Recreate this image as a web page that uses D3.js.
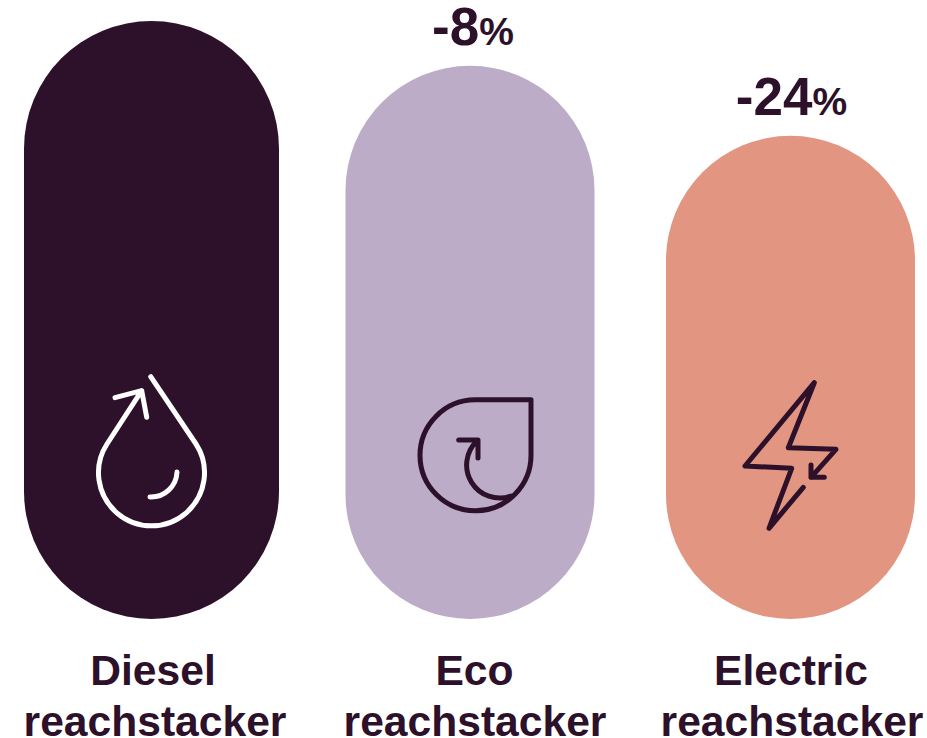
<!DOCTYPE html>
<html>
<head>
<meta charset="utf-8">
<script src="https://cdnjs.cloudflare.com/ajax/libs/d3/7.8.5/d3.min.js"></script>
<style>
  html, body { margin: 0; padding: 0; background: #fff; }
  svg { display: block; }
  text { font-family: "Liberation Sans", Arial, sans-serif; font-weight: bold; fill: #2d112b; }
</style>
</head>
<body>
<script>
// data
var categories = ["Diesel", "Eco", "Electric"];
var secondLine = ["reachstacker", "reachstacker", "reachstacker"];
// the pills are not drawn to true scale in the original, these are their heights (diesel = 100)
var pillValues = [100, 92.5, 80.8];
var changeNumbers = ["", "-8", "-24"];
var changeUnits = ["", "%", "%"];
var colors = ["#2d112b", "#bcacc8", "#e29580"];
var iconColors = ["#ffffff", "#2d112b", "#2d112b"];

var width = 927, height = 738;

// icon outlines, relative to the middle of the pill
var icons = [
  "M-0.8 -93.3 L44.5 -26 A53 53 0 1 1 -44.5 -26 L-9.8 -79.3 M-36.5 -72.3 L-9.8 -79.3 L-4.8 -52.7 M-1.5 27 A26 26 0 0 0 25.5 2",
  "M5 -70.2 L61 -70.2 L61 -15 A55.5 55.5 0 1 1 5 -70.2 Z M-11.3 -30 L8 -30 L8 -12 M7 -29 A33 33 0 0 0 41 26",
  "M23.8 -87.3 L-45.5 -4 L1.2 -1.7 L-21.5 58.3 L12.8 17.3 M23.8 -87.3 L-2.2 -22.3 L45.5 -20.7 L20.5 7.3 M20.5 -5 L20.5 7.3 L33.8 7.3"
];

var svg = d3.select("body")
  .append("svg")
  .attr("width", width)
  .attr("height", height);

var x = d3.scaleOrdinal().domain(categories).range([151.5, 470, 790.5]);
var y = d3.scaleLinear().domain([0, 100]).range([619, 21]);

function pillWidth(i) { return i === 0 ? 255 : 249; }

//----------------------------------pills------------------------------------

svg.selectAll("rect.pill")
  .data(categories)
  .enter().append("rect")
  .attr("class", "pill")
  .attr("x", function(d, i) { return x(d) - pillWidth(i) / 2; })
  .attr("y", function(d, i) { return y(pillValues[i]); })
  .attr("width", function(d, i) { return pillWidth(i); })
  .attr("height", function(d, i) { return y(0) - y(pillValues[i]); })
  .attr("rx", function(d, i) { return pillWidth(i) / 2; })
  .attr("fill", function(d, i) { return colors[i]; });

//----------------------------------icons------------------------------------

svg.selectAll("path.icon")
  .data(categories)
  .enter().append("path")
  .attr("class", "icon")
  .attr("transform", function(d) { return "translate(" + x(d) + ",470)"; })
  .attr("d", function(d, i) { return icons[i]; })
  .attr("fill", "none")
  .attr("stroke", function(d, i) { return iconColors[i]; })
  .attr("stroke-width", 5)
  .attr("stroke-linecap", "round")
  .attr("stroke-linejoin", "round");

//----------------------------------labels-----------------------------------

var nameX = [153, 474.5, 791];
var secondX = [155, 475, 792];
var changeX = [0, 473, 791.5];

svg.selectAll("text.name")
  .data(categories)
  .enter().append("text")
  .attr("class", "name")
  .attr("x", function(d, i) { return nameX[i]; })
  .attr("y", 684.5)
  .attr("text-anchor", "middle")
  .attr("font-size", 42.6)
  .text(function(d) { return d; });

svg.selectAll("text.second")
  .data(secondLine)
  .enter().append("text")
  .attr("class", "second")
  .attr("x", function(d, i) { return secondX[i]; })
  .attr("y", 736)
  .attr("text-anchor", "middle")
  .attr("font-size", 42.6)
  .text(function(d) { return d; });

var change = svg.selectAll("text.change")
  .data(categories.slice(1))
  .enter().append("text")
  .attr("class", "change")
  .attr("x", function(d) { return changeX[categories.indexOf(d)]; })
  .attr("y", function(d) { return y(pillValues[categories.indexOf(d)]) - 21; })
  .attr("text-anchor", "middle");

change.append("tspan")
  .attr("font-size", 53)
  .text(function(d) { return changeNumbers[categories.indexOf(d)]; });
change.append("tspan")
  .attr("font-size", 39)
  .text(function(d) { return changeUnits[categories.indexOf(d)]; });
</script>
</body>
</html>
